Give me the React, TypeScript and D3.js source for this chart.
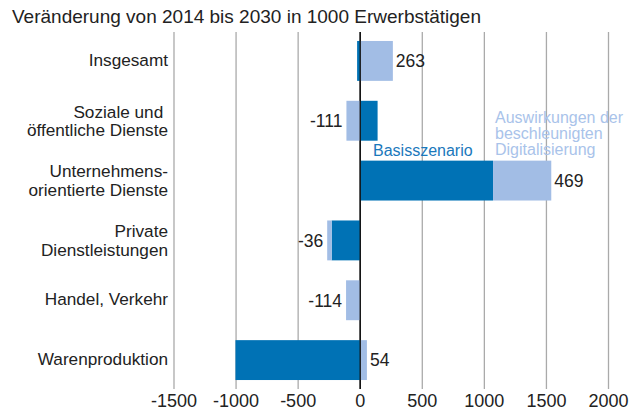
import React from "react";
import * as d3 from "d3";

const categories = [
  ["Insgesamt"],
  ["Soziale und\u00a0", "öffentliche Dienste"],
  ["Unternehmens-", "orientierte Dienste"],
  ["Private", "Dienstleistungen"],
  ["Handel, Verkehr"],
  ["Warenproduktion"],
];
const basis = [-25, 140, 1070, -230, 0, -1005];
const digital = [263, -111, 469, -36, -114, 54];
const ticks = [-1500, -1000, -500, 0, 500, 1000, 1500, 2000];
const title = "Veränderung von 2014 bis 2030 in 1000 Erwerbstätigen";
const legendBasis = "Basisszenario";
const legendDigital = ["Auswirkungen der", "beschleunigten", "Digitalisierung"];

const DARK = "#0072b5";
const LIGHT = "#a2bde5";
const FONT = "'Liberation Sans', Arial, Helvetica, sans-serif";

export default function App() {
  const W = 636, H = 411;
  const x = d3.scaleLinear().domain([-1500, 2000]).range([174, 608.5]);
  const keys = categories.map((_, i) => String(i));
  const y = d3.scaleBand().domain(keys).range([31, 390]).paddingInner(1 / 3).paddingOuter(1 / 6);
  const bw = y.bandwidth();

  const bars = categories.map((_, i) => {
    const b = basis[i];
    const d = digital[i];
    // digital effect stacks on basis if same sign, else starts at zero
    const dStart = Math.sign(b) === Math.sign(d) ? b : 0;
    const dEnd = dStart + d;
    return { i, b, d, dStart, dEnd };
  });

  return (
    <svg width={W} height={H} style={{ position: "absolute", left: 0, top: 0, fontFamily: FONT }}>
      <rect width={W} height={H} fill="#fff" />
      <text x={12} y={23} fontSize={19} fill="#222">{title}</text>
      {ticks.map((t) => (
        <line key={"g" + t} x1={x(t)} x2={x(t)} y1={32} y2={389}
          stroke={t === 0 ? "#111" : "#aaa"} strokeWidth={1.3} />
      ))}
      {bars.map(({ i, b, dStart, dEnd }) => {
        const yy = y(String(i))!;
        return (
          <g key={"b" + i}>
            <rect x={x(Math.min(0, b))} y={yy} width={Math.abs(x(b) - x(0))} height={bw} fill={DARK} />
            <rect x={x(Math.min(dStart, dEnd))} y={yy} width={Math.abs(x(dEnd) - x(dStart))} height={bw} fill={LIGHT} />
          </g>
        );
      })}
      <line x1={x(0)} x2={x(0)} y1={32} y2={389} stroke="#111" strokeWidth={1.3} />
      {bars.map(({ i, b, d, dEnd }) => {
        const cy = y(String(i))! + bw / 2;
        const pos = d >= 0;
        const ext = pos ? Math.max(b, dEnd, 0) : Math.min(b, dEnd, 0);
        return (
          <text key={"v" + i} x={x(ext) + (pos ? 3 : -4)} y={cy} dy="0.36em" fontSize={17.5}
            textAnchor={pos ? "start" : "end"} fill="#222">{d}</text>
        );
      })}
      {categories.map((lines, i) => {
        const cy = y(String(i))! + bw / 2;
        const lh = 18.5;
        return (
          <text key={"c" + i} x={168} textAnchor="end" fontSize={17.2} fill="#222">
            {lines.map((l, k) => (
              <tspan key={k} x={168} y={lines.length > 1 ? cy + 6 + (k - 0.5) * lh : cy + 5}>{l}</tspan>
            ))}
          </text>
        );
      })}
      {ticks.map((t) => (
        <text key={"t" + t} x={x(t)} y={407} textAnchor="middle" fontSize={18} fill="#222">{t}</text>
      ))}
      <text x={373} y={156} fontSize={16} fill="#1a78bb">{legendBasis}</text>
      <text fontSize={16} fill="#a9c3ea">
        {legendDigital.map((l, k) => (
          <tspan key={k} x={495} y={122.5 + k * 16}>{l}</tspan>
        ))}
      </text>
    </svg>
  );
}
